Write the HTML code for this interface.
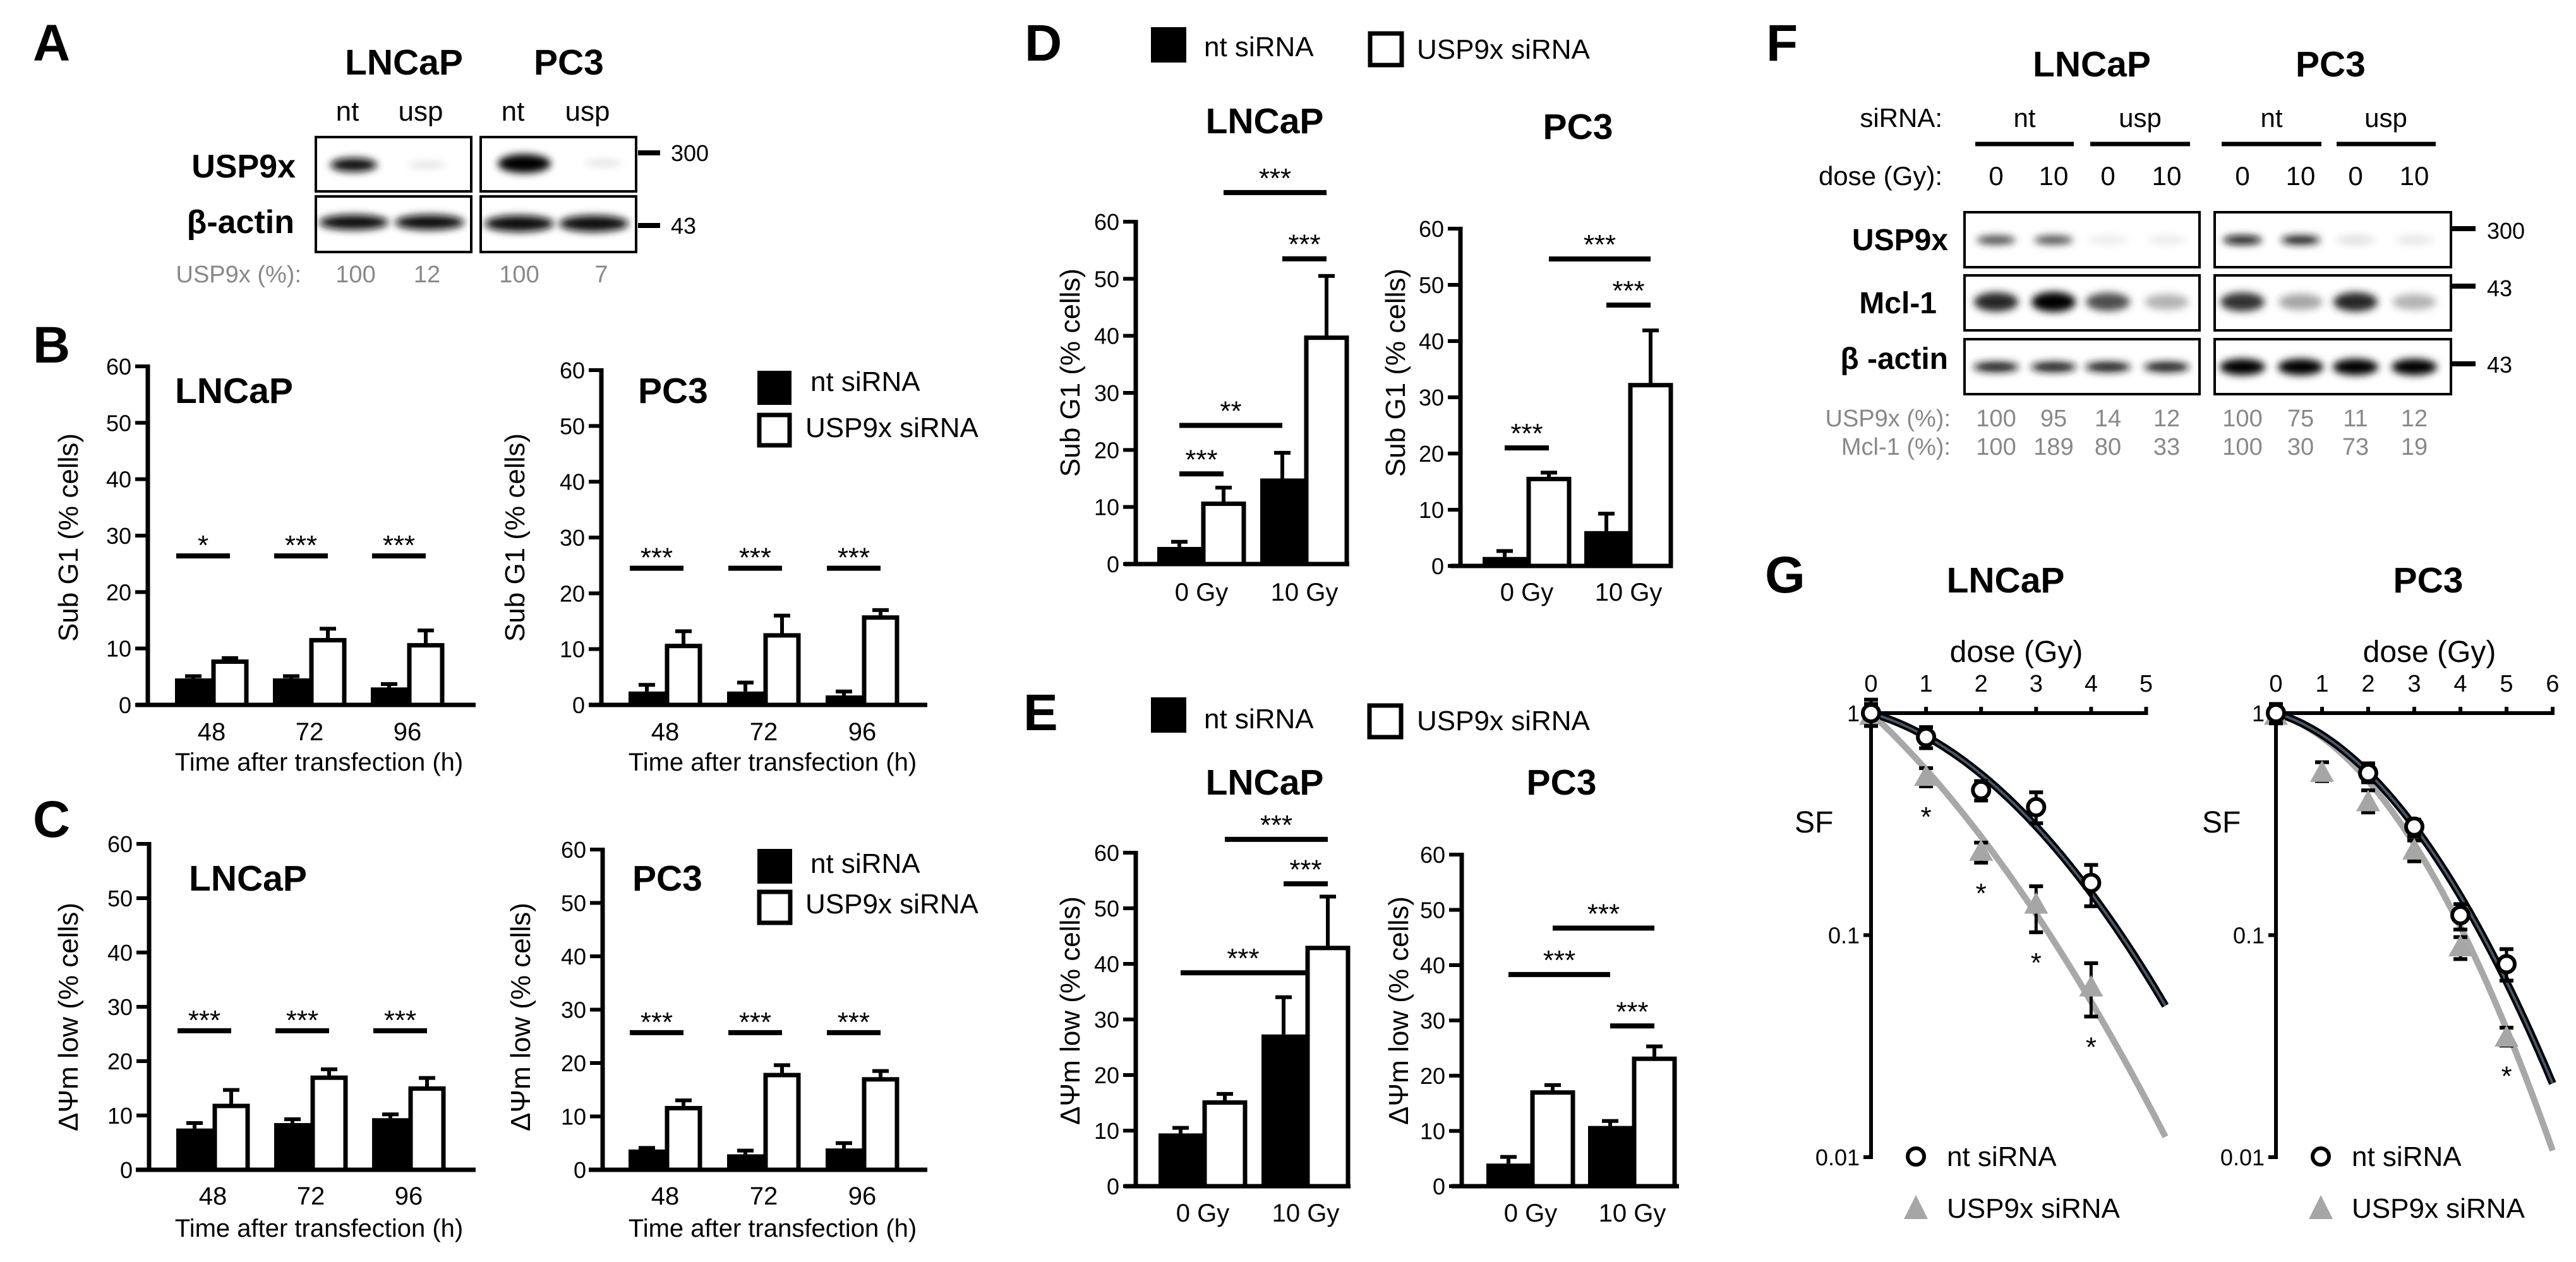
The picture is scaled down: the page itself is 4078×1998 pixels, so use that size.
<!DOCTYPE html>
<html><head><meta charset="utf-8">
<style>
html,body{margin:0;padding:0;background:#fff;width:4078px;height:1998px;overflow:hidden}
svg{display:block;font-family:"Liberation Sans",Arial,sans-serif}
</style></head><body>
<svg id="fig" width="4078" height="1998" viewBox="0 0 4078 1998" xmlns="http://www.w3.org/2000/svg">
<defs>
<filter id="blur" x="-50%" y="-300%" width="200%" height="700%"><feGaussianBlur stdDeviation="6"/></filter>
</defs>
</svg>
<script>
// ---------- DATA ----------
const bCats=['48','72','96'];
const dCats=['0 Gy','10 Gy'];
// B: Sub G1 after transfection
const bL_nt=[4.7,4.7,3.1], bL_ntErr=[0.4,0.4,0.6], bL_usp=[8.0,11.8,10.9], bL_uspErr=[0.3,1.7,2.3];
const bP_nt=[2.4,2.4,1.7], bP_ntErr=[1.2,1.6,0.7], bP_usp=[10.9,12.8,16.0], bP_uspErr=[2.3,3.2,1.0];
const bL_sigY=[26.4,26.4,26.4], bL_sigLab=['*','***','***'];
const bP_sigY=[24.5,24.5,24.5], bP_sigLab=['***','***','***'];
// C: dPsi m low after transfection
const cL_nt=[7.6,8.6,9.5], cL_ntErr=[1.0,0.7,0.7], cL_usp=[12.1,17.3,15.3], cL_uspErr=[2.6,1.2,1.6];
const cP_nt=[3.8,2.9,4.0], cP_ntErr=[0.3,0.7,1.0], cP_usp=[11.9,18.1,17.3], cP_uspErr=[1.1,1.5,1.2];
const cL_sigY=[25.6,25.6,25.6], cL_sigLab=['***','***','***'];
const cP_sigY=[25.7,25.7,25.7], cP_sigLab=['***','***','***'];
// D: Sub G1 vs dose
const dL_nt=[3.0,15.0], dL_ntErr=[0.9,4.5], dL_usp=[10.9,40.0], dL_uspErr=[2.5,10.5];
const dP_nt=[1.6,6.2], dP_ntErr=[1.05,3.1], dP_usp=[15.8,32.5], dP_uspErr=[0.8,9.4];
const dL_sigFrom=['n0','n0','n1','u0'], dL_sigTo=['u0','n1','u1','u1'], dL_sigY=[15.8,24.3,53.5,65.1], dL_sigLab=['***','**','***','***'];
const dP_sigFrom=['n0','n1','u0'], dP_sigTo=['u0','u1','u1'], dP_sigY=[21,46.4,54.6], dP_sigLab=['***','***','***'];
// E: dPsi m low vs dose
const eL_nt=[9.5,27.3], eL_ntErr=[1.0,6.7], eL_usp=[15.4,43.2], eL_uspErr=[1.2,8.9];
const eP_nt=[4.1,10.9], eP_ntErr=[1.2,0.9], eP_usp=[17.3,23.4], eP_uspErr=[1.0,1.9];
const eL_sigFrom=['n0','n1','u0'], eL_sigTo=['e1','u1','u1'], eL_sigY=[38.4,54.4,62.4], eL_sigLab=['***','***','***'];
const eP_sigFrom=['n0','u0','n1'], eP_sigTo=['n1','u1','u1'], eP_sigY=[38.3,46.7,29], eP_sigLab=['***','***','***'];
const yTicks=[0,10,20,30,40,50,60];
// G: survival fraction
const gL_ntDose=[0,1,2,3,4], gL_nt=[1,0.78,0.45,0.377,0.172], gL_ntHi=[1.15,0.865,0.494,0.44,0.207], gL_ntLo=[0.875,0.695,0.404,0.319,0.135];
const gL_uspDose=[0,1,2,3,4], gL_usp=[0.97,0.515,0.237,0.137,0.058], gL_uspHi=[1.1,0.565,0.261,0.166,0.0747], gL_uspLo=[0.88,0.468,0.212,0.103,0.043], gL_uspSig=['','*','*','*','*'];
const gL_fitNt=[0.0725,0.0325], gL_fitUsp=[0.231,0.0235];
const gP_ntDose=[0,2,3,4,5], gP_nt=[1,0.537,0.308,0.123,0.074], gP_ntHi=[1.1,0.594,0.331,0.138,0.0865], gP_ntLo=[0.9,0.488,0.278,0.106,0.0624];
const gP_uspDose=[0,1,2,3,4,5], gP_usp=[0.97,0.537,0.396,0.24,0.088,0.0345], gP_uspHi=[1.05,0.601,0.449,0.267,0.098,0.0383], gP_uspLo=[0.9,0.494,0.357,0.215,0.078,0.0318], gP_uspSig=['','','','','','*'];
const gP_fitNt=[0.062,0.036], gP_fitUsp=[0.065,0.0439];
const gL_xTicks=[0,1,2,3,4,5], gP_xTicks=[0,1,2,3,4,5,6];
const gYTicks=[1,0.1,0.01], gYLabels=['1','0.1','0.01'];
// Blot quantification and band intensities
const aQuant=['100','12','100','7'];
const fUspQuant=['100','95','14','12','100','75','11','12'];
const fMclQuant=['100','189','80','33','100','30','73','19'];
const fDose=['0','10','0','10','0','10','0','10'];
const fUspBand=[0.72,0.7,0.08,0.08,0.95,0.9,0.13,0.1];
const fMclBand=[0.85,1.0,0.7,0.3,0.8,0.35,0.85,0.3];
const fActBand=[0.9,0.9,0.9,0.9,1,1,1,1];

// ---------- HELPERS ----------
const NS='http://www.w3.org/2000/svg';
const svg=document.getElementById('fig');
function el(tag,attrs,parent){const e=document.createElementNS(NS,tag);for(const k in attrs)e.setAttribute(k,attrs[k]);(parent||svg).appendChild(e);return e;}
function txt(s,x,y,size,name,opts,parent){
  const a=Object.assign({x:x,y:y,'font-size':size,fill:'#000'},opts||{});
  const t=el('text',a,parent);
  t.textContent=s;
  
  
  return t;
}
function ln(x1,y1,x2,y2,w,name,parent,col){
  const l=el('line',{x1:x1,y1:y1,x2:x2,y2:y2,stroke:col||'#000','stroke-width':w},parent);
  
  
  return l;
}
function grp(name){
  const g=el('g',{});
  
  
  return g;
}

// panel letters
[['A',52,96],['B',52,574],['C',52,1325],['D',1622,96],['E',1620,1156],['F',2796,96],['G',2794,938]].forEach(p=>{
  txt(p[0],p[1],p[2],82,'panel-label-'+p[0].toLowerCase(),{'font-weight':'bold'});
});

// ---------- BAR CHART ----------
function barChart(c,cats,nt,ntE,usp,uspE,sFrom,sTo,sY,sLab){
  const g=grp(c.name);
  const ys=v=>c.y0-v*(c.y0-c.y60)/60;
  const nx=i=>c.start+i*c.step;
  const ref=r=>{const k=+r.slice(1),t=r[0];
    if(t==='n')return nx(k)+c.w/2; if(t==='u')return nx(k)+c.w*1.5;
    if(t==='l')return nx(k)+2; return nx(k)+c.w;};
  ln(c.axisX,c.y60-3,c.axisX,c.y0+3,7,'y-axis',g);
  yTicks.forEach(v=>{
    ln(c.axisX-20,ys(v),c.axisX,ys(v),6,'y-tick',g);
    txt(String(v),c.axisX-26,ys(v)+13,36,'y-tick-label',{'text-anchor':'end'},g);
  });
  cats.forEach((cat,i)=>{
    const ex=nx(i)+c.w/2, ux=nx(i)+c.w*1.5;
    ln(ex,ys(nt[i]),ex,ys(nt[i]+ntE[i]),6,'error-bar-nt',g);
    ln(ex-13,ys(nt[i]+ntE[i]),ex+13,ys(nt[i]+ntE[i]),6,'error-cap-nt',g);
    ln(ux,ys(usp[i]),ux,ys(usp[i]+uspE[i]),6,'error-bar-usp',g);
    ln(ux-13,ys(usp[i]+uspE[i]),ux+13,ys(usp[i]+uspE[i]),6,'error-cap-usp',g);
    const b1=el('rect',{x:nx(i),y:ys(nt[i]),width:c.w,height:c.y0-ys(nt[i]),fill:'#000'},g);
    
    
    const b2=el('rect',{x:nx(i)+c.w+3,y:ys(usp[i])+3,width:c.w-6,height:c.y0-ys(usp[i])-3,fill:'#fff',stroke:'#000','stroke-width':7},g);
    
    
    txt(cat,nx(i)+c.w,c.catY,40,'x-tick-label',{'text-anchor':'middle'},g);
  });
  ln(c.xL,c.y0,c.xR,c.y0,7,'x-axis',g);
  sY.forEach((v,i)=>{
    const x1=ref(sFrom[i]), x2=ref(sTo[i]);
    ln(x1,ys(v),x2,ys(v),8,'significance-line',g);
    txt(sLab[i],(x1+x2)/2,ys(v)-c.gap+20,44,'significance-stars',{'text-anchor':'middle'},g);
  });
  txt(c.title,c.tx,c.ty,57,'chart-title',{'font-weight':'bold','text-anchor':c.tanchor},g);
  const yl=txt(c.ylabel,c.ylx,c.yly,44,'y-axis-title',{'text-anchor':'middle',transform:'rotate(-90 '+c.ylx+' '+c.yly+')'},g);
  yl.setAttribute('dy','15');
  if(c.xtitle) txt('Time after transfection  (h)',c.xtx,c.xty,40,'x-axis-title',{'text-anchor':'middle'},g);
}
function bcSig(n){return [Array.from({length:n},(_,i)=>'l'+i),Array.from({length:n},(_,i)=>'u'+i)];}
const s3=bcSig(3);
const SUB='Sub G1  (% cells)', PSI='\u0394\u03A8m low (% cells)';
barChart({name:'chart-b-lncap',axisX:234,y0:1116,y60:580,start:277,step:155,w:58,xL:215,xR:753,catY:1172,title:'LNCaP',tx:277,ty:638,tanchor:'start',ylabel:SUB,ylx:108,yly:851,xtitle:true,xtx:505,xty:1220,gap:22},
  bCats,bL_nt,bL_ntErr,bL_usp,bL_uspErr,s3[0],s3[1],bL_sigY,bL_sigLab);
barChart({name:'chart-b-pc3',axisX:952,y0:1116,y60:586,start:995,step:156,w:58,xL:932,xR:1468,catY:1172,title:'PC3',tx:1010,ty:638,tanchor:'start',ylabel:SUB,ylx:815,yly:851,xtitle:true,xtx:1223,xty:1220,gap:22},
  bCats,bP_nt,bP_ntErr,bP_usp,bP_uspErr,s3[0],s3[1],bP_sigY,bP_sigLab);
barChart({name:'chart-c-lncap',axisX:236,y0:1852,y60:1336,start:279,step:155,w:58,xL:215,xR:753,catY:1907,title:'LNCaP',tx:299,ty:1410,tanchor:'start',ylabel:PSI,ylx:108,yly:1610,xtitle:true,xtx:505,xty:1958,gap:22},
  bCats,cL_nt,cL_ntErr,cL_usp,cL_uspErr,s3[0],s3[1],cL_sigY,cL_sigLab);
barChart({name:'chart-c-pc3',axisX:954,y0:1852,y60:1345,start:995,step:156,w:58,xL:932,xR:1468,catY:1907,title:'PC3',tx:1001,ty:1410,tanchor:'start',ylabel:PSI,ylx:824,yly:1610,xtitle:true,xtx:1223,xty:1958,gap:22},
  bCats,cP_nt,cP_ntErr,cP_usp,cP_uspErr,s3[0],s3[1],cP_sigY,cP_sigLab);
barChart({name:'chart-d-lncap',axisX:1798,y0:893,y60:351,start:1832,step:163,w:70,xL:1780,xR:2136,catY:951,title:'LNCaP',tx:2002,ty:211,tanchor:'middle',ylabel:SUB,ylx:1694,yly:590,gap:28},
  dCats,dL_nt,dL_ntErr,dL_usp,dL_uspErr,dL_sigFrom,dL_sigTo,dL_sigY,dL_sigLab);
barChart({name:'chart-d-pc3',axisX:2312,y0:896,y60:362,start:2347,step:161,w:70,xL:2296,xR:2647,catY:951,title:'PC3',tx:2498,ty:220,tanchor:'middle',ylabel:SUB,ylx:2209,yly:590,gap:28},
  dCats,dP_nt,dP_ntErr,dP_usp,dP_uspErr,dP_sigFrom,dP_sigTo,dP_sigY,dP_sigLab);
barChart({name:'chart-e-lncap',axisX:1798,y0:1878,y60:1350,start:1834,step:163,w:70,xL:1780,xR:2138,catY:1934,title:'LNCaP',tx:2002,ty:1258,tanchor:'middle',ylabel:PSI,ylx:1694,yly:1600,gap:28},
  dCats,eL_nt,eL_ntErr,eL_usp,eL_uspErr,eL_sigFrom,eL_sigTo,eL_sigY,eL_sigLab);
barChart({name:'chart-e-pc3',axisX:2314,y0:1878,y60:1353,start:2353,step:161,w:70,xL:2298,xR:2658,catY:1934,title:'PC3',tx:2472,ty:1258,tanchor:'middle',ylabel:PSI,ylx:2214,yly:1600,gap:28},
  dCats,eP_nt,eP_ntErr,eP_usp,eP_uspErr,eP_sigFrom,eP_sigTo,eP_sigY,eP_sigLab);

function legend(name,x1,y1,x2,y2,size,t1y,t2y,tx){
  const g=grp(name);
  const r1=el('rect',{x:x1,y:y1,width:size,height:size,fill:'#000'},g);
  
  
  const r2=el('rect',{x:x2+3,y:y2+3,width:size-6,height:size-6,fill:'#fff',stroke:'#000','stroke-width':7},g);
  
  
  txt('nt  siRNA',tx[0],t1y,44,'legend-label-nt',{},g);
  txt('USP9x siRNA',tx[1],t2y,44,'legend-label-usp9x',{},g);
}
legend('legend-b',1199,587,1199,654,54,619,692,[1283,1275]);
legend('legend-c',1199,1344,1199,1409,55,1382,1446,[1283,1275]);
legend('legend-d',1822,43,2166,50,56,89,93,[1906,2243]);
legend('legend-e',1822,1104,2165,1114,56,1153,1156,[1906,2243]);

// ---------- BLOTS ----------
function blotBox(x,y,w,h,name,parent){
  const r=el('rect',{x:x,y:y,width:w,height:h,fill:'#fff',stroke:'#000','stroke-width':4},parent);
  
  
}
function band(cx,cy,w,h,intensity,name,parent){
  const v=Math.round(255*(1-intensity));
  const e=el('ellipse',{cx:cx,cy:cy,rx:w/2,ry:h/2,fill:'rgb('+v+','+v+','+v+')',filter:'url(#blur)'},parent);
  
  
}
const gA=grp('panel-a-blot');
txt('LNCaP',546,118,57,'blot-a-title-lncap',{'font-weight':'bold'},gA);
txt('PC3',845,118,57,'blot-a-title-pc3',{'font-weight':'bold'},gA);
[['nt',550],['usp',666],['nt',812],['usp',930]].forEach(p=>txt(p[0],p[1],191,44,'lane-label',{'text-anchor':'middle'},gA));
blotBox(500,217,246,86,'blot-a-usp9x-lncap',gA);
blotBox(761,217,246,86,'blot-a-usp9x-pc3',gA);
blotBox(500,311,246,88,'blot-a-actin-lncap',gA);
blotBox(761,311,246,88,'blot-a-actin-pc3',gA);
band(560,261,74,22,0.95,'band',gA); band(676,261,60,8,0.15,'band',gA);
band(830,259,84,30,1,'band',gA); band(955,258,60,8,0.15,'band',gA);
band(560,352,110,24,0.95,'band',gA); band(680,352,110,24,0.95,'band',gA);
band(822,354,110,26,0.95,'band',gA); band(940,354,110,26,0.95,'band',gA);
txt('USP9x',468,281,52,'row-label-usp9x',{'font-weight':'bold','text-anchor':'end'},gA);
txt('\u03B2-actin',466,369,52,'row-label-actin',{'font-weight':'bold','text-anchor':'end'},gA);
ln(1010,242,1045,242,8,'marker-300',gA); txt('300',1062,255,36,'mw-300',{},gA);
ln(1010,357,1045,357,8,'marker-43',gA); txt('43',1062,370,36,'mw-43',{},gA);
txt('USP9x (%):',477,447,38,'quant-label',{'text-anchor':'end',fill:'#888'},gA);
[563,676,822,952].forEach((x,i)=>txt(aQuant[i],x,447,38,'quant-value',{'text-anchor':'middle',fill:'#888'},gA));

const gF=grp('panel-f-blot');
const fCols=[3160,3251,3337,3430,3550,3642,3729,3822];
txt('LNCaP',3218,121,57,'blot-f-title-lncap',{'font-weight':'bold'},gF);
txt('PC3',3634,121,57,'blot-f-title-pc3',{'font-weight':'bold'},gF);
txt('siRNA:',3075,201,42,'sirna-label',{'text-anchor':'end'},gF);
[['nt',3205],['usp',3388],['nt',3596],['usp',3777]].forEach(p=>txt(p[0],p[1],201,42,'sirna-group',{'text-anchor':'middle'},gF));
[[3127,3283],[3309,3467],[3517,3675],[3699,3856]].forEach(p=>ln(p[0],228,p[1],228,7,'group-underline',gF));
txt('dose (Gy):',3075,293,42,'dose-label',{'text-anchor':'end'},gF);
fCols.forEach((x,i)=>txt(fDose[i],x,293,42,'dose-value',{'text-anchor':'middle'},gF));
[[336,'usp9x'],[436,'mcl1'],[537,'actin']].forEach(r=>{blotBox(3110,r[0],372,87,'blot-f-'+r[1]+'-lncap',gF);blotBox(3506,r[0],374,87,'blot-f-'+r[1]+'-pc3',gF);});
fCols.forEach((x,i)=>{
  band(x,380,62,14,fUspBand[i],'band-usp9x',gF);
  band(x,478,70,22+fMclBand[i]*10,fMclBand[i],'band-mcl1',gF);
  band(x,581,72,i<4?16:26,fActBand[i],'band-actin',gF);
});
txt('USP9x',3084,396,48,'row-label-usp9x',{'font-weight':'bold','text-anchor':'end'},gF);
txt('Mcl-1',3066,496,48,'row-label-mcl1',{'font-weight':'bold','text-anchor':'end'},gF);
txt('\u03B2 -actin',3084,584,48,'row-label-actin',{'font-weight':'bold','text-anchor':'end'},gF);
ln(3880,362,3919,362,8,'marker-300',gF); txt('300',3937,378,36,'mw-300',{},gF);
ln(3880,453,3919,453,8,'marker-43',gF); txt('43',3937,469,36,'mw-43',{},gF);
ln(3880,576,3919,576,8,'marker-43',gF); txt('43',3937,590,36,'mw-43',{},gF);
txt('USP9x (%):',3088,675,38,'quant-label-usp9x',{'text-anchor':'end',fill:'#888'},gF);
txt('Mcl-1 (%):',3088,720,38,'quant-label-mcl1',{'text-anchor':'end',fill:'#888'},gF);
fCols.forEach((x,i)=>{
  txt(fUspQuant[i],x,675,38,'quant-usp9x',{'text-anchor':'middle',fill:'#888'},gF);
  txt(fMclQuant[i],x,720,38,'quant-mcl1',{'text-anchor':'middle',fill:'#888'},gF);
});

// ---------- SURVIVAL CURVES ----------
function survival(c,xt,ntD,nt,ntHi,ntLo,uD,u,uHi,uLo,uSig,fitN,fitU){
  const g=grp(c.name);
  const lx=d=>c.x0+d*c.pxGy;
  const ly=s=>c.y1-Math.log10(s)*c.dec;
  txt(c.title,c.tx,938,57,'chart-title',{'font-weight':'bold','text-anchor':'middle'},g);
  ln(c.x0,c.y1-3,c.x0,ly(0.01)+3,6,'y-axis',g);
  const xEnd=lx(xt[xt.length-1]);
  ln(c.x0,c.y1,xEnd+3,c.y1,6,'x-axis',g);
  xt.forEach(d=>{
    if(d>0) ln(lx(d),c.y1-10,lx(d),c.y1,6,'x-tick',g);
    txt(String(d),lx(d),1095,38,'x-tick-label',{'text-anchor':'middle'},g);
  });
  gYTicks.forEach((s,i)=>{
    ln(c.x0-12,ly(s),c.x0,ly(s),6,'y-tick',g);
    txt(gYLabels[i],c.x0-18,ly(s)+13,36,'y-tick-label',{'text-anchor':'end'},g);
  });
  txt('dose (Gy)',c.dx,1048,48,'x-axis-title',{'text-anchor':'middle'},g);
  txt('SF',c.sfx,1318,48,'y-axis-title',{},g);
  function curve(p,end){let d='';for(let x=0;x<=end+1e-9;x+=0.05){const s=Math.pow(10,-(p[0]*x+p[1]*x*x));d+=(x===0?'M':'L')+lx(x).toFixed(1)+' '+ly(s).toFixed(1);}return d;}
  const cu=el('path',{d:curve(fitU,c.endU),fill:'none',stroke:'#a8a8a8','stroke-width':10},g);
  
  
  const cn1=el('path',{d:curve(fitN,c.endN),fill:'none',stroke:'#000','stroke-width':12},g);
  
  
  const cn2=el('path',{d:curve(fitN,c.endN),fill:'none',stroke:'#4a5666','stroke-width':4},g);
  
  
  uD.forEach((d,i)=>{
    const x=lx(d);
    ln(x,ly(uHi[i]),x,ly(uLo[i]),5,'error-bar-usp9x',g);
    ln(x-11,ly(uHi[i]),x+11,ly(uHi[i]),6,'error-cap',g);
    ln(x-11,ly(uLo[i]),x+11,ly(uLo[i]),6,'error-cap',g);
    const y=ly(u[i]);
    const t=el('polygon',{points:(x-19)+','+(y+14)+' '+(x+19)+','+(y+14)+' '+x+','+(y-20),fill:'#a6a6a6'},g);
    
    
    if(uSig[i]) txt(uSig[i],x,ly(uLo[i])+38+25,44,'significance-star',{'text-anchor':'middle'},g);
  });
  ntD.forEach((d,i)=>{
    const x=lx(d);
    ln(x,ly(ntHi[i]),x,ly(ntLo[i]),5,'error-bar-nt',g);
    ln(x-11,ly(ntHi[i]),x+11,ly(ntHi[i]),6,'error-cap',g);
    ln(x-11,ly(ntLo[i]),x+11,ly(ntLo[i]),6,'error-cap',g);
    const p=el('circle',{cx:x,cy:ly(nt[i]),r:13,fill:'#fff',stroke:'#000','stroke-width':6},g);
    
    
  });
  const lc=el('circle',{cx:c.x0+71,cy:1831,r:13,fill:'#fff',stroke:'#000','stroke-width':6},g);
  
  
  txt('nt  siRNA',c.x0+120,1846,44,'legend-label-nt',{},g);
  const lt=el('polygon',{points:(c.x0+52)+','+1930+' '+(c.x0+90)+','+1930+' '+(c.x0+71)+','+1892,fill:'#a6a6a6'},g);
  
  
  txt('USP9x siRNA',c.x0+120,1928,44,'legend-label-usp9x',{},g);
}
survival({name:'chart-g-lncap',x0:2962,pxGy:87.1,y1:1129,dec:351.5,title:'LNCaP',tx:3175,dx:3192,sfx:2841,endN:5.35,endU:5.35},
  gL_xTicks,gL_ntDose,gL_nt,gL_ntHi,gL_ntLo,gL_uspDose,gL_usp,gL_uspHi,gL_uspLo,gL_uspSig,gL_fitNt,gL_fitUsp);
survival({name:'chart-g-pc3',x0:3603,pxGy:73,y1:1129,dec:351.5,title:'PC3',tx:3844,dx:3846,sfx:3486,endN:6,endU:6},
  gP_xTicks,gP_ntDose,gP_nt,gP_ntHi,gP_ntLo,gP_uspDose,gP_usp,gP_uspHi,gP_uspLo,gP_uspSig,gP_fitNt,gP_fitUsp);
</script>
</body></html>
